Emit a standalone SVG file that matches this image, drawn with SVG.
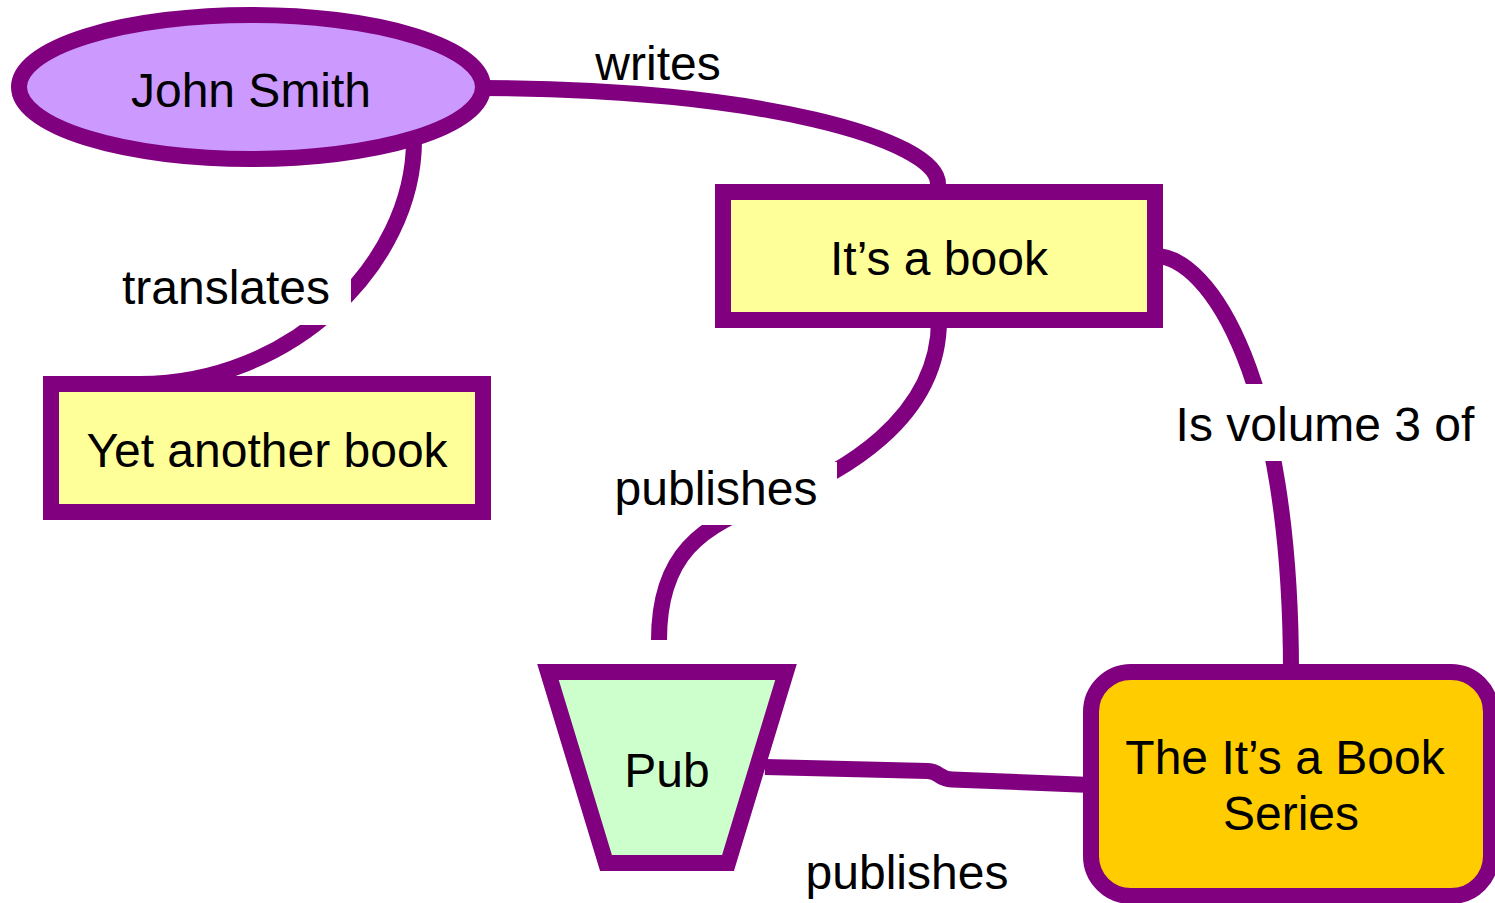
<svg xmlns="http://www.w3.org/2000/svg" width="1495" height="903" viewBox="0 0 1495 903">
<style>
.edge{fill:none;stroke:#800080;stroke-width:16;stroke-linecap:butt}
.node{stroke:#800080;stroke-width:16}
.t{font-family:"Liberation Sans",Arial,sans-serif;font-size:48px;fill:#000;text-anchor:middle}
.lbg{fill:#fff}
</style>
<rect width="1495" height="903" fill="#fff"/>
<g id="connectors">
<path class="edge" d="M 482 88 C 760 88, 938 140, 938 184"/>
<path class="edge" d="M 414 140 C 414 265, 290 384, 140 384"/>
<path class="edge" d="M 939 320 C 939 420, 840 475, 772 500 C 700 525, 659 555, 659 640"/>
<path class="edge" d="M 1155 256 C 1210 256, 1291 380, 1291 672"/>
<path class="edge" d="M 765 767 L 928 771 C 940 771.5, 938 779, 952 779.5 L 1091 785"/>
</g>
<g id="labels">
<rect class="lbg" x="100" y="277" width="251" height="48"/>
<text class="t" x="226" y="304">translates</text>
<rect class="lbg" x="595" y="462" width="242" height="63"/>
<text class="t" x="716" y="505">publishes</text>
<rect class="lbg" x="1165" y="384" width="320" height="77"/>
<text class="t" x="1325" y="441">Is volume 3 of</text>
<text class="t" x="658" y="80">writes</text>
<text class="t" x="907" y="889">publishes</text>
</g>
<g id="john">
<ellipse class="node" cx="251" cy="87" rx="232" ry="72" fill="#CC99FF"/>
<text class="t" x="251" y="107">John Smith</text>
</g>
<g id="book">
<rect class="node" x="723" y="192" width="432" height="128" fill="#FFFF99"/>
<text class="t" x="939" y="275">It’s a book</text>
</g>
<g id="another">
<rect class="node" x="51" y="384" width="432" height="128" fill="#FFFF99"/>
<text class="t" x="267" y="467">Yet another book</text>
</g>
<g id="pub">
<polygon class="node" points="548,672 786,672 728,863 606,863" fill="#CCFFCC"/>
<text class="t" x="667" y="787">Pub</text>
</g>
<g id="series">
<rect class="node" x="1091" y="672" width="400" height="224" rx="40" ry="40" fill="#FFCC00"/>
<text class="t" x="1285" y="774">The It’s a Book</text>
<text class="t" x="1291" y="830">Series</text>
</g>
</svg>
